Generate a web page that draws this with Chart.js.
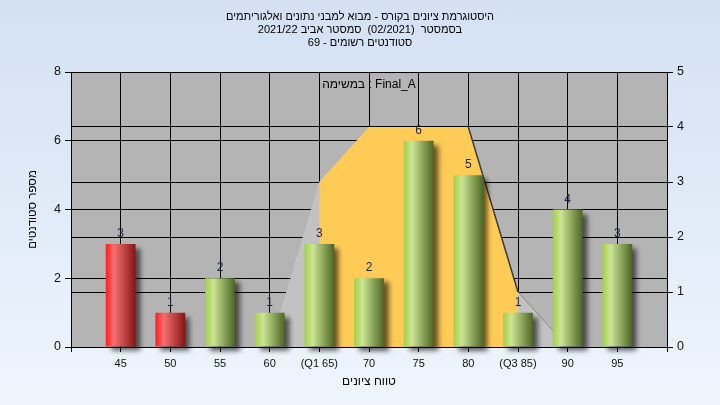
<!DOCTYPE html>
<html>
<head>
<meta charset="utf-8">
<script src="https://cdn.jsdelivr.net/npm/chart.js@4.4.1/dist/chart.umd.min.js"></script>
<style>
  html, body { margin: 0; padding: 0; }
  body { width: 720px; height: 405px; background: linear-gradient(to bottom, #d3e1f3, #eef5fd); }
  canvas { display: block; }
</style>
</head>
<body>
<canvas id="chart" width="720" height="405"></canvas>
<script>
// histogram data
const gradeValues = [45, 50, 55, 60, 65, 70, 75, 80, 85, 90, 95];
const gradeLabels = ['45', '50', '55', '60', '(Q1 65)', '70', '75', '80', '(Q3 85)', '90', '95'];
const studentCounts = [3, 1, 2, 1, 3, 2, 6, 5, 1, 4, 3];
const failingGrades = [45, 50];

// background curve (right axis)
const curveX = [60, 65, 70, 75, 80, 85, 90];
const curveY = [0, 3, 4, 4, 4, 1, 0];
const quartileX = [65, 70, 75, 80, 85];
const quartileY = [3, 4, 4, 4, 1];
const edgeX = [80, 85, 90];
const edgeY = [4, 1, 0];

const titleLines = [
  'היסטוגרמת ציונים בקורס - מבוא למבני נתונים ואלגוריתמים',
  'בסמסטר  (02/2021)  סמסטר אביב 2021/22',
  'סטודנטים רשומים - 69'
];
const taskLabel = 'במשימה : Final_A';
const yTitle = 'מספר סטודנטים';
const xTitle = 'טווח ציונים';

const FONT = "'Liberation Sans', 'DejaVu Sans', sans-serif";

function points(xs, ys) {
  return xs.map((x, i) => ({x: x, y: ys[i]}));
}

function cylinder(c) {
  const chart = c.chart;
  const x = chart.scales.x;
  const red = c.raw && failingGrades.includes(c.raw.x);
  const stops = red ? ['#ff1c1c', '#f27070', '#861414'] : ['#a3d048', '#cbe594', '#4c6524'];
  if (!x || !c.raw || !isFinite(x.getPixelForValue(c.raw.x))) return stops[0];
  const cx = x.getPixelForValue(c.raw.x);
  const half = (x.getPixelForValue(5) - x.getPixelForValue(0)) * 0.3;
  const g = chart.ctx.createLinearGradient(cx - half, 0, cx + half, 0);
  g.addColorStop(0, stops[0]);
  g.addColorStop(0.28, stops[1]);
  g.addColorStop(1, stops[2]);
  return g;
}

const plotBackground = {
  id: 'plotBackground',
  beforeDraw(chart) {
    const {ctx, chartArea: a} = chart;
    ctx.save();
    ctx.fillStyle = '#b4b4b4';
    ctx.fillRect(a.left, a.top, a.right - a.left, a.bottom - a.top);
    ctx.restore();
  }
};

const barShadow = {
  id: 'barShadow',
  beforeDatasetDraw(chart, args) {
    if (chart.data.datasets[args.index].type !== 'bar') return;
    const ctx = chart.ctx;
    ctx.save();
    ctx.shadowColor = 'rgba(0,0,0,0.6)';
    ctx.shadowBlur = 5;
    ctx.shadowOffsetX = 5;
    ctx.shadowOffsetY = 4;
  },
  afterDatasetDraw(chart, args) {
    if (chart.data.datasets[args.index].type !== 'bar') return;
    chart.ctx.restore();
  }
};

const barValues = {
  id: 'barValues',
  afterDatasetsDraw(chart) {
    const ctx = chart.ctx;
    const meta = chart.getDatasetMeta(0);
    ctx.save();
    ctx.font = '12px ' + FONT;
    ctx.fillStyle = '#1c2440';
    ctx.textAlign = 'center';
    ctx.textBaseline = 'alphabetic';
    meta.data.forEach((el, i) => {
      ctx.fillText(String(studentCounts[i]), el.x, el.y - 7);
    });
    ctx.restore();
  },
  afterDraw(chart) {
    const {ctx, chartArea: a} = chart;
    ctx.save();
    ctx.font = '12px ' + FONT;
    ctx.fillStyle = '#000';
    ctx.textAlign = 'center';
    ctx.textBaseline = 'middle';
    ctx.fillText(taskLabel, (a.left + a.right) / 2, a.top + 13);
    ctx.restore();
  }
};

new Chart(document.getElementById('chart'), {
  type: 'bar',
  data: {
    datasets: [
      {
        type: 'bar',
        data: points(gradeValues, studentCounts),
        xAxisID: 'x',
        yAxisID: 'y',
        backgroundColor: cylinder,
        borderWidth: 0,
        barPercentage: 0.6,
        categoryPercentage: 1,
        clip: false,
        order: 0
      },
      {
        type: 'line',
        data: points(edgeX, edgeY),
        xAxisID: 'x',
        yAxisID: 'y1',
        borderWidth: 1.5,
        borderColor: '#3c3c3c',
        segment: { borderColor: s => s.p0DataIndex === 0 ? '#3c3c3c' : '#8a8a8a', borderWidth: s => s.p0DataIndex === 0 ? 1.5 : 1 },
        pointRadius: 0,
        fill: false,
        order: 1
      },
      {
        type: 'line',
        data: points(quartileX, quartileY),
        xAxisID: 'x',
        yAxisID: 'y1',
        borderWidth: 0,
        pointRadius: 0,
        backgroundColor: '#ffcb57',
        fill: 'origin',
        order: 2
      },
      {
        type: 'line',
        data: points(curveX, curveY),
        xAxisID: 'x',
        yAxisID: 'y1',
        borderWidth: 0,
        pointRadius: 0,
        backgroundColor: '#c2c2c2',
        fill: 'origin',
        order: 3
      }
    ]
  },
  options: {
    responsive: false,
    animation: false,
    devicePixelRatio: 1,
    layout: { padding: 0 },
    plugins: {
      legend: { display: false },
      tooltip: { enabled: false },
      title: {
        display: true,
        text: titleLines,
        color: '#000',
        font: { family: FONT, size: 11, weight: 'normal', lineHeight: 13 / 11 },
        padding: { top: 10, bottom: 23 }
      }
    },
    scales: {
      x: {
        type: 'linear',
        min: 40,
        max: 100,
        offset: false,
        afterFit: s => { s.height = 58; },
        ticks: {
          stepSize: 5,
          autoSkip: false,
          maxRotation: 0,
          color: '#111',
          padding: 5,
          font: { family: FONT, size: 11 },
          callback: v => {
            const i = gradeValues.indexOf(v);
            return i < 0 ? '' : gradeLabels[i];
          }
        },
        grid: { color: '#000', lineWidth: 1, tickLength: 5, offset: false },
        border: { color: '#000', width: 1 },
        title: { display: true, text: xTitle, color: '#000', font: { family: FONT, size: 12 }, padding: { top: 0, bottom: 16 } }
      },
      y: {
        position: 'left',
        min: 0,
        max: 8,
        afterFit: s => { s.width = 71; },
        ticks: { stepSize: 2, color: '#111', padding: 4, font: { family: FONT, size: 12.5 } },
        grid: { color: '#000', lineWidth: 1, tickLength: 6 },
        border: { color: '#000', width: 1 },
        title: { display: true, text: yTitle, color: '#000', font: { family: FONT, size: 11.5 }, padding: { top: 26, bottom: 0 } }
      },
      y1: {
        position: 'right',
        min: 0,
        max: 5,
        afterFit: s => { s.width = 53; },
        ticks: { stepSize: 1, color: '#111', padding: 4, font: { family: FONT, size: 12.5 } },
        grid: { color: '#000', lineWidth: 1, tickLength: 6 },
        border: { color: '#000', width: 1 }
      }
    }
  },
  plugins: [plotBackground, barShadow, barValues]
});
</script>
</body>
</html>
